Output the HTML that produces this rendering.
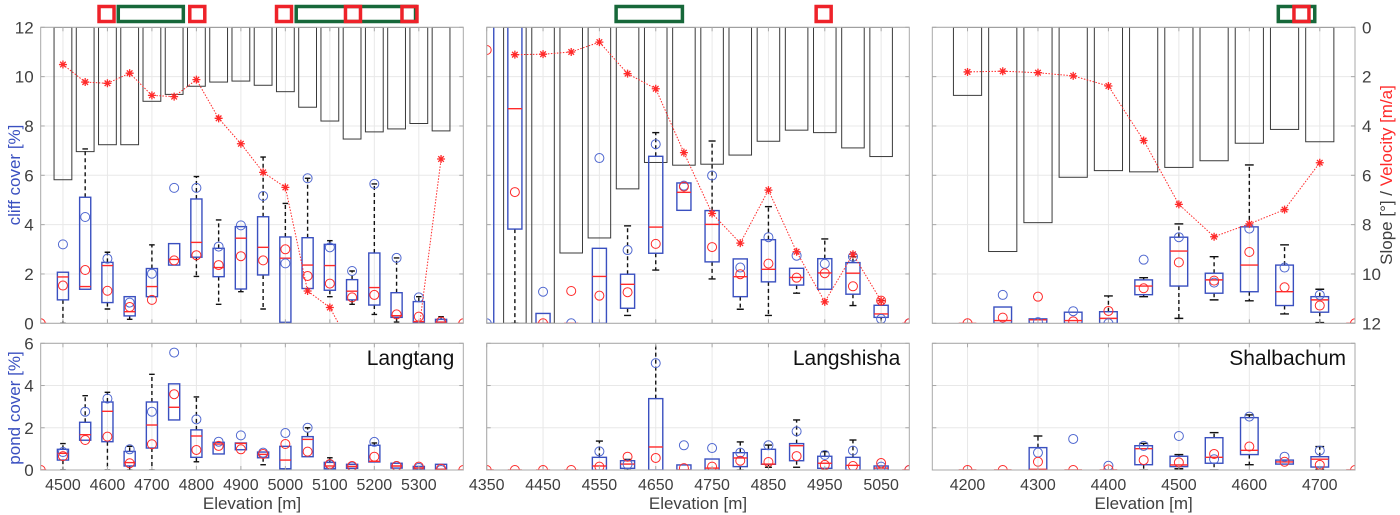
<!DOCTYPE html>
<html><head><meta charset="utf-8">
<style>
html,body{margin:0;padding:0;background:#fff;}
svg{display:block;font-family:"Liberation Sans",Arial,sans-serif;}
</style></head>
<body>
<svg id="chart" width="1400" height="515" viewBox="0 0 1400 515" xmlns="http://www.w3.org/2000/svg"></svg>
<script>
// ---------- DATA ----------
// Langtang
const elevL = [4450,4500,4550,4600,4650,4700,4750,4800,4850,4900,4950,5000,5050,5100,5150,5200,5250,5300,5350,5400];
const slopeL = [null,6.18,5.04,4.76,4.76,3.0,2.72,2.39,2.22,2.18,2.35,2.61,3.24,3.8,4.53,4.24,4.12,3.9,4.2,null];
const velL = [null,10.49,9.78,9.73,10.14,9.24,9.19,9.88,8.31,7.28,6.12,5.51,1.31,0.64,-1,-2,-1.5,-0.3,6.66,null];
const cliffQ1L = [null,0.95,1.38,0.84,0.3,1.08,2.36,2.68,1.89,1.39,1.96,0.04,1.41,1.34,0.95,0.74,0.24,0.04,0,null];
const cliffQ3L = [null,2.07,5.11,2.47,1.08,2.22,3.23,5.04,3.04,3.92,4.32,3.5,3.47,3.2,1.77,2.85,1.24,0.88,0.16,null];
const cliffMedL = [0,1.88,1.49,2.34,0.47,1.49,2.59,3.28,2.26,3.45,3.08,2.64,2.36,2.34,1.3,1.45,0.31,0.07,0.05,0];
const cliffLoL = [null,0,1.38,0.58,0.16,1.08,2.36,1.9,0.77,1.28,0.58,0,1.41,1.08,0.77,0.36,0.05,0.04,0,null];
const cliffHiL = [null,2.07,7.07,2.88,1.08,3.18,3.23,5.95,4.19,3.92,6.74,4.86,5.88,3.35,2.12,5.65,2.65,1.08,0.27,null];
const cliffBlueL = [null,3.2,4.31,2.62,0.84,2.01,5.49,5.49,3.11,3.97,5.16,2.43,5.88,3.08,2.12,5.65,2.65,1.05,0,null];
const cliffRedL = [0,1.53,2.16,1.32,0.66,0.95,2.55,2.76,2.36,2.72,2.55,3.0,1.92,1.61,1.05,1.15,0.36,0.27,0.07,0];
const pondQ1L = [null,0.47,1.41,1.34,0.19,1.04,2.37,0.6,0.76,0.96,0.58,0.06,0.63,0.06,0.08,0.38,0.09,0.03,0.03,null];
const pondQ3L = [null,0.98,2.26,3.22,0.88,3.22,4.08,1.9,1.31,1.28,0.85,1.12,1.58,0.36,0.27,1.17,0.32,0.17,0.27,null];
const pondMedL = [0,0.79,1.67,2.78,0.35,2.13,2.97,1.61,1.23,1.26,0.74,0.47,1.45,0.19,0.17,0.41,0.19,0.1,0.03,0];
const pondLoL = [null,0,1.41,0,0,0,2.37,0.39,0.76,0.96,0.25,0,0.63,0.06,0.08,0.38,0.09,0.03,0.03,null];
const pondHiL = [null,1.25,3.52,3.68,1.12,4.53,4.08,3.46,1.31,1.28,0.85,1.12,2.0,0.58,0.27,1.28,0.32,0.17,0.27,null];
const pondBlueL = [null,0.85,2.76,3.38,0.98,2.76,5.56,2.4,1.34,1.64,0.82,1.75,2.0,0.24,0.16,1.33,0.19,0.1,0,null];
const pondRedL = [0,0.66,1.42,1.58,0.32,1.22,3.59,0.95,1.14,0.98,0.76,1.23,0.87,0.28,0.19,0.63,0.19,0.16,0.06,0];
const redMarksL = [4598,4802,4997,5152,5279];
const greenStartL = [4621,5021];
const greenEndL = [4774,5296];
// Langshisha
const elevS = [4350,4400,4450,4500,4550,4600,4650,4700,4750,4800,4850,4900,4950,5000,5050,5100];
const slopeS = [null,12,12,9.15,8.54,6.55,5.48,5.59,5.55,5.18,4.62,4.17,4.27,4.89,5.24,null];
const velS = [null,10.89,10.91,11.0,11.4,10.12,9.51,6.92,4.45,3.25,5.40,2.9,0.87,2.8,0.91,null];
const cliffQ1S = [0,3.82,0,null,0,0.61,2.84,4.58,2.49,1.08,1.68,1.55,1.38,1.18,0.24,null];
const cliffQ3S = [14,13,0.4,null,3.04,1.99,6.77,5.69,4.57,2.61,3.39,2.23,2.62,2.46,0.73,null];
const cliffMedS = [13,8.7,0,0,1.9,1.58,3.9,5.31,4.01,1.89,2.19,1.86,2.04,2.03,0.38,0];
const cliffLoS = [0,0,0,null,0,0.32,2.16,4.58,1.8,0.57,0.32,1.22,1.38,0.72,0,null];
const cliffHiS = [14,13,0.4,null,3.04,3.95,7.73,5.69,7.39,2.61,4.73,2.23,3.42,2.7,0.92,null];
const cliffBlueS = [0,null,1.28,0,6.7,2.97,7.26,5.58,5.99,2.26,3.49,2.74,2.41,2.7,0.18,0];
const cliffRedS = [11.08,5.32,0,1.31,1.12,1.26,3.22,5.54,3.09,1.99,2.42,1.85,2.03,1.5,0.92,0];
const pondQ1S = [null,null,null,null,0,0.08,0,0,0,0.16,0.27,0.44,0.08,0,0,null];
const pondQ3S = [null,null,null,null,0.6,0.44,3.38,0.24,0.52,0.82,0.98,1.25,0.65,0.6,0.19,null];
const pondMedS = [0,0,0,0,0.19,0.28,1.09,0,0.09,0.57,0.28,1.15,0.32,0.22,0.09,0];
const pondLoS = [null,null,null,null,0,0,0,0,0,0,0.13,0.13,0,0,0,null];
const pondHiS = [null,null,null,null,1.37,0.5,7,0.24,0.52,1.33,1.18,2.37,0.87,1.42,0.19,null];
const pondBlueS = [null,null,null,null,0.88,0.27,5.06,1.17,1.04,0.82,1.17,1.83,0.71,0.92,0.16,0];
const pondRedS = [0,0,0,0,0.16,0.63,0.57,0.09,0.16,0.44,0.38,0.66,0.24,0.19,0.33,0];
const redMarksS = [4948];
const greenStartS = [4577];
const greenEndS = [4700];
// Shalbachum
const elevB = [4200,4250,4300,4350,4400,4450,4500,4550,4600,4650,4700,4750];
const slopeB = [2.76,9.09,7.92,6.08,5.81,5.86,5.68,5.41,4.70,4.14,4.64,null];
const velB = [10.19,10.22,10.16,10.03,9.62,7.41,4.82,3.51,4.03,4.61,6.51,null];
const cliffQ1B = [null,0,0,0,0,1.16,1.51,1.22,1.28,0.72,0.45,null];
const cliffQ3B = [null,0.66,0.18,0.45,0.47,1.76,3.49,2.03,3.91,2.36,1.08,null];
const cliffMedB = [0,0.11,0.14,0.11,0.2,1.51,2.93,1.76,2.36,1.28,0.95,0];
const cliffLoB = [null,0,0,0,0,1.08,0.2,0.95,0.91,0.38,0.03,null];
const cliffHiB = [null,0.66,0.18,0.45,1.11,1.85,4.03,2.7,6.42,3.18,1.38,null];
const cliffBlueB = [null,1.15,0.05,0.49,0,2.58,3.49,1.65,3.84,2.26,1.15,null];
const cliffRedB = [0,0.23,1.08,0.08,0.5,1.42,2.47,1.73,2.89,1.46,0.72,0];
const pondQ1B = [null,null,0,null,null,0.25,0.16,0.32,0.73,0.28,0.14,null];
const pondQ3B = [null,null,1.06,null,null,1.15,0.65,1.53,2.48,0.47,0.63,null];
const pondMedB = [0,0,0.03,0,0,1.01,0.24,0.6,0.93,0.38,0.51,0];
const pondLoB = [null,null,0,null,null,0,0.06,0,0.25,0.28,0.03,null];
const pondHiB = [null,null,1.61,null,null,1.26,0.73,1.77,2.61,0.47,1.11,null];
const pondBlueB = [null,null,0.82,1.47,0.2,1.14,1.61,0.51,2.53,0.63,0.92,null];
const pondRedB = [0,0,0.39,0,0.03,0.47,0.36,0.76,1.11,0.39,0.24,0];
const redMarksB = [4674];
const greenStartB = [4639];
const greenEndB = [4695];
const xTicksL = [4500,4600,4700,4800,4900,5000,5100,5200,5300];
const xTicksS = [4350,4450,4550,4650,4750,4850,4950,5050];
const xTicksB = [4200,4300,4400,4500,4600,4700];
const cliffTicks = [0,2,4,6,8,10,12];
const pondTicks = [0,2,4,6];

// ---------- DRAW ----------
const svg = document.getElementById('chart');
const NS = 'http://www.w3.org/2000/svg';
function mk(tag, attrs, parent){
  const e = document.createElementNS(NS, tag);
  for (const k in attrs) e.setAttribute(k, attrs[k]);
  (parent||svg).appendChild(e);
  return e;
}
const BLUE = '#3a50c0', RED = '#ff2a2a', GRID = '#e8e8e8', AX = '#a8a8a8', TXT = '#404040';
const TOP = {y0: 27.3, y1: 323.3, max: 12};
const BOT = {y0: 343.3, y1: 470, max: 6};

const panels = [
  {id:'langtang', name:'Langtang', x0:40.7, x1:463.3, e0:4450, e1:5400, elev:elevL, slope:slopeL, vel:velL,
   cliff:[cliffQ1L,cliffQ3L,cliffMedL,cliffLoL,cliffHiL,cliffBlueL,cliffRedL],
   pond:[pondQ1L,pondQ3L,pondMedL,pondLoL,pondHiL,pondBlueL,pondRedL],
   red:redMarksL, gs:greenStartL, ge:greenEndL, ticks:xTicksL, left:true, right:false},
  {id:'langshisha', name:'Langshisha', x0:486.7, x1:909.3, e0:4350, e1:5100, elev:elevS, slope:slopeS, vel:velS,
   cliff:[cliffQ1S,cliffQ3S,cliffMedS,cliffLoS,cliffHiS,cliffBlueS,cliffRedS],
   pond:[pondQ1S,pondQ3S,pondMedS,pondLoS,pondHiS,pondBlueS,pondRedS],
   red:redMarksS, gs:greenStartS, ge:greenEndS, ticks:xTicksS, left:false, right:false},
  {id:'shalbachum', name:'Shalbachum', x0:932.3, x1:1355, e0:4150, e1:4750, elev:elevB, slope:slopeB, vel:velB,
   cliff:[cliffQ1B,cliffQ3B,cliffMedB,cliffLoB,cliffHiB,cliffBlueB,cliffRedB],
   pond:[pondQ1B,pondQ3B,pondMedB,pondLoB,pondHiB,pondBlueB,pondRedB],
   red:redMarksB, gs:greenStartB, ge:greenEndB, ticks:xTicksB, left:false, right:true}
];

function star(g, x, y){
  const r = 4;
  mk('path', {d:`M${x-r},${y}H${x+r}M${x},${y-r}V${y+r}M${x-r*0.7},${y-r*0.7}L${x+r*0.7},${y+r*0.7}M${x-r*0.7},${y+r*0.7}L${x+r*0.7},${y-r*0.7}`, stroke:RED, 'stroke-width':1.3, fill:'none'}, g);
}

function drawBoxes(g, P, xs, ax, stats, kind){
  const [q1,q3,med,lo,hi,blue,red] = stats;
  const ys = v => ax.y1 - v/ax.max*(ax.y1-ax.y0);
  const hw = xs(12.5) - xs(0);
  const cw = xs(6.25) - xs(0);
  P.elev.forEach((e,i)=>{
    const cx = xs(e);
    const bg = mk('g', {}, g);
    
    
    if (lo[i]!=null && hi[i]!=null){
      if (q1[i]!=null && lo[i] < q1[i]) {
        mk('line', {x1:cx,x2:cx,y1:ys(q1[i]),y2:ys(lo[i]),stroke:'#111','stroke-width':1.4,'stroke-dasharray':'4,3'}, bg);
        mk('line', {x1:cx-cw,x2:cx+cw,y1:ys(lo[i]),y2:ys(lo[i]),stroke:'#111','stroke-width':1.4}, bg);
      }
      if (q3[i]!=null && hi[i] > q3[i]) {
        mk('line', {x1:cx,x2:cx,y1:ys(q3[i]),y2:ys(hi[i]),stroke:'#111','stroke-width':1.4,'stroke-dasharray':'4,3'}, bg);
        mk('line', {x1:cx-cw,x2:cx+cw,y1:ys(hi[i]),y2:ys(hi[i]),stroke:'#111','stroke-width':1.4}, bg);
      }
    }
    if (q1[i]!=null && q3[i]!=null){
      mk('rect', {x:cx-hw, y:ys(q3[i]), width:2*hw, height:Math.max(0.5, ys(q1[i])-ys(q3[i])), fill:'none', stroke:BLUE, 'stroke-width':1.4}, bg);
    }
    if (med[i]!=null) mk('line', {x1:cx-hw,x2:cx+hw,y1:ys(med[i]),y2:ys(med[i]),stroke:RED,'stroke-width':1.4}, bg);
    if (blue[i]!=null) mk('circle', {cx:cx, cy:ys(blue[i]), r:4.5, fill:'none', stroke:'#5068d0', 'stroke-width':1}, bg);
    if (red[i]!=null) mk('circle', {cx:cx, cy:ys(red[i]), r:4.5, fill:'none', stroke:RED, 'stroke-width':1}, bg);
  });
}

panels.forEach((P, pi)=>{
  const xs = e => P.x0 + (e - P.e0)/(P.e1 - P.e0)*(P.x1 - P.x0);
  const xd = d => d/(P.e1 - P.e0)*(P.x1 - P.x0);
  [['top',TOP],['bottom',BOT]].forEach(([which, ax])=>{
    const ys = v => ax.y1 - v/ax.max*(ax.y1-ax.y0);
    const g = mk('g', {});
    
    
    const cid = 'clip-'+P.id+'-'+which;
    const cp = mk('clipPath', {id:cid}, g);
    mk('rect', {x:P.x0, y:ax.y0, width:P.x1-P.x0, height:ax.y1-ax.y0}, cp);
    // grid
    const ticks = which==='top'?cliffTicks:pondTicks;
    ticks.forEach(t=> mk('line',{x1:P.x0,x2:P.x1,y1:ys(t),y2:ys(t),stroke:GRID,'stroke-width':1}, g));
    P.ticks.forEach(t=> mk('line',{x1:xs(t),x2:xs(t),y1:ax.y0,y2:ax.y1,stroke:GRID,'stroke-width':1}, g));
    const inner = mk('g', {'clip-path':`url(#${cid})`}, g);
    if (which==='top'){
      // slope bars
      const bw = xd(20);
      P.elev.forEach((e,i)=>{
        if (P.slope[i]==null) return;
        const b = mk('rect',{x:xs(e)-bw, y:ax.y0, width:2*bw, height:P.slope[i]/12*(ax.y1-ax.y0), fill:'none', stroke:'#3a3a3a','stroke-width':1}, inner);
        
        
      });
      drawBoxes(inner, P, xs, ax, P.cliff, 'cliff');
      // velocity line
      let d = '';
      P.elev.forEach((e,i)=>{ if (P.vel[i]!=null) d += (d?'L':'M') + xs(e).toFixed(1)+','+ys(P.vel[i]).toFixed(1); });
      const vl = mk('path',{d:d, fill:'none', stroke:RED, 'stroke-width':1, 'stroke-dasharray':'1.5,1.5'}, inner);
      
      
      P.elev.forEach((e,i)=>{ if (P.vel[i]!=null) star(inner, xs(e), ys(P.vel[i])); });
    } else {
      drawBoxes(inner, P, xs, ax, P.pond, 'pond');
    }
    // axis frame
    const fr = mk('rect',{x:P.x0,y:ax.y0,width:P.x1-P.x0,height:ax.y1-ax.y0,fill:'none',stroke:AX,'stroke-width':1}, g);
    
    
    // tick marks
    ticks.forEach(t=>{
      mk('line',{x1:P.x0,x2:P.x0+4,y1:ys(t),y2:ys(t),stroke:AX}, g);
      mk('line',{x1:P.x1-4,x2:P.x1,y1:ys(t),y2:ys(t),stroke:AX}, g);
    });
    P.ticks.forEach(t=>{
      mk('line',{x1:xs(t),x2:xs(t),y1:ax.y1-4,y2:ax.y1,stroke:AX}, g);
      mk('line',{x1:xs(t),x2:xs(t),y1:ax.y0,y2:ax.y0+4,stroke:AX}, g);
    });
    if (P.left){
      ticks.forEach(t=>{
        const tx = mk('text',{x:P.x0-7,y:ys(t)+6,'text-anchor':'end','font-size':17,fill:TXT}, g);
        tx.textContent = t;
      });
    }
    if (P.right && which==='top'){
      cliffTicks.forEach(t=>{
        const tx = mk('text',{x:P.x1+7,y:ys(t)+6,'font-size':17,fill:TXT}, g);
        tx.textContent = 12 - t;
      });
    }
    if (which==='bottom'){
      P.ticks.forEach(t=>{
        const tx = mk('text',{x:xs(t),y:490,'text-anchor':'middle','font-size':16,fill:TXT}, g);
        tx.textContent = t;
      });
      const xl = mk('text',{x:(P.x0+P.x1)/2,y:509,'text-anchor':'middle','font-size':17,fill:TXT}, g);
      xl.textContent = 'Elevation [m]';
      
      
      const nm = mk('text',{x:P.x1-9,y:365,'text-anchor':'end','font-size':21,fill:'#111'}, g);
      nm.textContent = P.name;
      
      
    }
  });
  // markers above top axes
  const mg = mk('g', {});
  
  
  P.gs.forEach((s,k)=>{
    mk('rect',{x:xs(s)+1.5,y:6.5,width:xs(P.ge[k])-xs(s)-3,height:15,fill:'none',stroke:'#17683a','stroke-width':3.5}, mg);
  });
  P.red.forEach(r=>{
    mk('rect',{x:xs(r)-7.5,y:6.5,width:15,height:15,fill:'none',stroke:'#ee2229','stroke-width':3.5}, mg);
  });
});

// axis titles
const yl1 = mk('text',{transform:'translate(20,175) rotate(-90)','text-anchor':'middle','font-size':17,fill:BLUE});
yl1.textContent = 'cliff cover [%]';


const yl2 = mk('text',{transform:'translate(20,408) rotate(-90)','text-anchor':'middle','font-size':17,fill:BLUE});
yl2.textContent = 'pond cover [%]';


const yr = mk('text',{transform:'translate(1392,175) rotate(-90)','text-anchor':'middle','font-size':17,fill:TXT});


const t1 = mk('tspan',{}, yr); t1.textContent = 'Slope [°] / ';
const t2 = mk('tspan',{fill:RED}, yr); t2.textContent = 'Velocity [m/a]';
</script>
</body></html>
